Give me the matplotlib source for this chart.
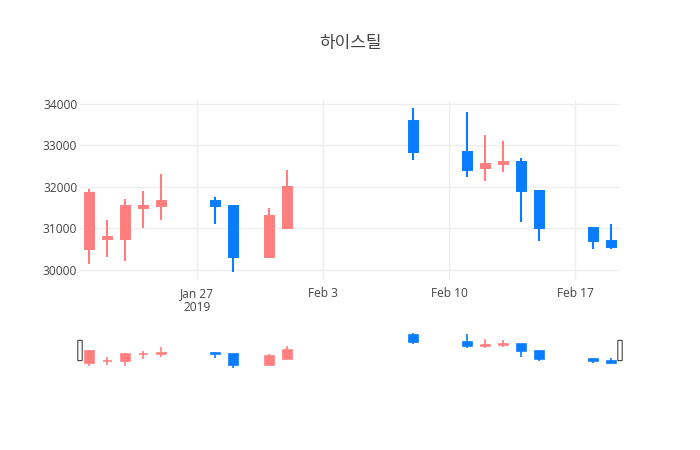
import matplotlib
matplotlib.use("Agg")
import matplotlib.pyplot as plt
import matplotlib.dates as mdates
from matplotlib.patches import FancyBboxPatch
import pandas as pd
import numpy as np

plt.rcParams['font.family'] = ['Open Sans', 'Noto Sans CJK KR', 'DejaVu Sans']

dates = ['2019-01-21', '2019-01-22', '2019-01-23', '2019-01-24', '2019-01-25',
         '2019-01-28', '2019-01-29', '2019-01-31', '2019-02-01', '2019-02-08',
         '2019-02-11', '2019-02-12', '2019-02-13', '2019-02-14', '2019-02-15',
         '2019-02-18', '2019-02-19']
opens = [30500, 30750, 30750, 31500, 31550, 31650, 31550, 30300, 31000, 33600,
         32850, 32450, 32550, 32600, 31900, 31000, 30700]
highs = [31950, 31200, 31700, 31900, 32300, 31750, 31550, 31500, 32400, 33900,
         33800, 33250, 33100, 32700, 31900, 31000, 31100]
lows = [30150, 30300, 30200, 31000, 31200, 31100, 29950, 30300, 31000, 32650,
        32250, 32150, 32350, 31150, 30700, 30500, 30500]
closes = [31850, 30800, 31550, 31550, 31650, 31550, 30300, 31300, 32000, 32850,
          32400, 32550, 32600, 31900, 31000, 30700, 30550]

title = '하이스틸'
up_color = '#FF7F7F'
down_color = '#0A7CFF'
text_color = '#444444'
grid_color = '#EEEEEE'

x = mdates.date2num(pd.to_datetime(dates))
o = np.array(opens)
h = np.array(highs)
l = np.array(lows)
c = np.array(closes)
colors = [up_color if cc >= oo else down_color for oo, cc in zip(o, c)]
xmin = mdates.date2num(pd.Timestamp('2019-01-20 12:00'))
xmax = mdates.date2num(pd.Timestamp('2019-02-19 12:00'))
pad = (h.max() - l.min()) * 0.05


def draw_candles(ax, wick_lw, body_lw):
    ax.vlines(x, l, h, colors=colors, linewidth=wick_lw, zorder=2)
    bottoms = np.minimum(o, c)
    heights = np.abs(c - o)
    ax.bar(x, heights, bottom=bottoms, width=0.5, color=colors,
           edgecolor=colors, linewidth=body_lw, zorder=3)
    ax.set_xlim(xmin, xmax)
    ax.set_ylim(l.min() - pad, h.max() + pad)


fig = plt.figure(figsize=(7, 4.5), dpi=100)
ax = fig.add_axes([80 / 700, 1 - 280 / 450, 540 / 700, 180 / 450])
draw_candles(ax, 1.5, 1.4)

ax.set_yticks([30000, 31000, 32000, 33000, 34000])
ticks = pd.to_datetime(['2019-01-27', '2019-02-03', '2019-02-10', '2019-02-17'])
ax.set_xticks(mdates.date2num(ticks))
ax.set_xticklabels(['Jan 27\n2019', 'Feb 3', 'Feb 10', 'Feb 17'])
ax.grid(True, color=grid_color, linewidth=1)
ax.set_axisbelow(True)
for s in ax.spines.values():
    s.set_visible(False)
ax.tick_params(length=0, labelsize=8.6, colors=text_color, pad=2)
ax.tick_params(axis='x', pad=5)
for lab in ax.get_xticklabels():
    lab.set_linespacing(1.1)
    lab.set_verticalalignment('top')

fig.text(0.5, 1 - 43 / 450, title, ha='center', va='center', fontsize=12.2,
         color=text_color, family=['Noto Sans CJK KR', 'DejaVu Sans'])

# range slider
sl = fig.add_axes([80 / 700, 1 - 370 / 450, 540 / 700, 39 / 450])
draw_candles(sl, 1.2, 1.2)
sl.set_xticks([])
sl.set_yticks([])
for s in sl.spines.values():
    s.set_visible(False)

for hx in (0.0, 1.0):
    handle = FancyBboxPatch((hx - 2.2 / 540, 0.24), 4.4 / 540, 0.52,
                            boxstyle='round,pad=0,rounding_size=0.003',
                            transform=sl.transAxes, facecolor='white',
                            edgecolor='#444444', linewidth=0.8,
                            clip_on=False, zorder=5)
    sl.add_patch(handle)

fig.savefig('out.png', dpi=100, facecolor='white')
